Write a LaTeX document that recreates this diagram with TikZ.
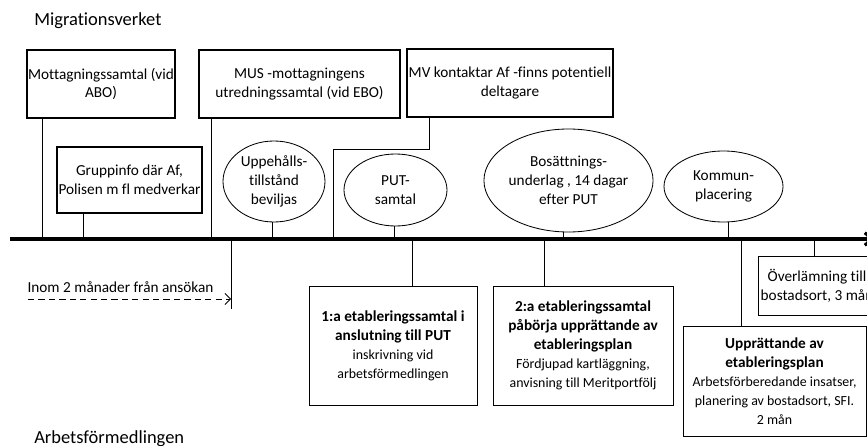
\documentclass[tikz,border=0pt]{standalone}
\usepackage{fontspec}
\setmainfont{Carlito}[Ligatures=NoCommon]
\usetikzlibrary{arrows.meta,shapes.geometric}

\newcommand{\px}{0.72pt}
\newcommand{\smalltext}{\fontsize{10}{12.8}\selectfont}

\begin{document}
\begin{tikzpicture}[x=0.72pt,y=-0.72pt,font=\fontsize{11}{13.6}\selectfont]

%
% Styles
%
\tikzstyle{topbox} = [rectangle,draw,line width=1.5pt,align=center,inner sep=1pt]
\tikzstyle{lowbox} = [rectangle,draw,line width=0.6pt,align=center,inner sep=1pt]
\tikzstyle{event} = [ellipse,draw,line width=0.6pt,align=center,inner sep=0pt]
\tikzstyle{tick} = [draw,line width=0.6pt]
\tikzstyle{title} = [anchor=base west,inner sep=0pt,font=\fontsize{13.3}{16}\selectfont]

\useasboundingbox (0,0) rectangle (867,446);
\clip (0,0) rectangle (867,446);

\node[title] (mig) at (34,26)  {Migrationsverket};
\node[title] (af)  at (34,443) {Arbetsförmedlingen};

% Migrationsverket
\node[topbox,minimum width=146*\px,minimum height=68*\px] (mott)  at (101,84)    {Mottagningssamtal (vid\\ABO)};
\node[topbox,minimum width=141*\px,minimum height=66*\px] (grupp) at (129.5,180) {Gruppinfo där Af,\\Polisen m fl medverkar};
\node[topbox,minimum width=201*\px,minimum height=68*\px] (mus)   at (299.5,84)  {MUS -mottagningens\\utredningssamtal (vid EBO)};
\node[topbox,minimum width=202*\px,minimum height=68*\px] (mv)    at (510,83)    {MV kontaktar Af -finns potentiell\\deltagare};

\node[event,minimum width=102*\px,minimum height=81*\px]  (upp) at (274,181.5) {Uppehålls-\\tillstånd\\beviljas};
\node[event,minimum width=103*\px,minimum height=72*\px]  (put) at (395.5,190) {PUT-\\samtal};
\node[event,minimum width=167*\px,minimum height=103*\px] (bos) at (568.5,180.5) {Bosättnings-\\underlag , 14 dagar\\efter PUT};
\node[event,minimum width=119*\px,minimum height=71*\px]  (kom) at (723.5,186.5) {Kommun-\\placering};

% Arbetsformedlingen
\node[lowbox,minimum width=168*\px,minimum height=119*\px] (etab1) at (393,345.5)
  {\textbf{1:a etableringssamtal i}\\\textbf{anslutning till PUT}\\{\smalltext inskrivning vid}\\{\smalltext arbetsförmedlingen}};
\node[lowbox,minimum width=180*\px,minimum height=119*\px] (etab2) at (583,345.5)
  {\textbf{2:a etableringssamtal}\\\textbf{påbörja upprättande av}\\\textbf{etableringsplan}\\{\smalltext Fördjupad kartläggning,}\\{\smalltext anvisning till Meritportfölj}};
\node[lowbox,minimum width=183*\px,minimum height=110*\px] (plan) at (774.5,381)
  {\textbf{Upprättande av}\\\textbf{etableringsplan}\\{\smalltext Arbetsförberedande insatser,}\\{\smalltext planering av bostadsort, SFI.}\\{\smalltext 2 mån}};
\node[lowbox,minimum width=118*\px,minimum height=59*\px] (over) at (817,285.5) {Överlämning till\\bostadsort, 3 mån};

% Timeline
\coordinate (start) at (10,239);
\coordinate (end)   at (874,239);
\draw[line width=2.2pt,-{Straight Barb[length=5pt,width=9pt]}] (start) -- (end);

\coordinate (tMott)  at (42,239);
\coordinate (tGrupp) at (83,239);
\coordinate (tMus)   at (211,239);
\coordinate (tUpp)   at (272,239);
\coordinate (tMv)    at (333,239);
\coordinate (tPut)   at (394,239);
\coordinate (tBos)   at (563,239);
\coordinate (tKom)   at (728,239);
\coordinate (mvBend) at (429,149);

\draw[tick] (mott.south -| tMott)   -- (tMott);
\draw[tick] (grupp.south -| tGrupp) -- (tGrupp);
\draw[tick] (mus.south -| tMus)     -- (tMus);
\draw[tick] (upp.south -| tUpp)     -- (tUpp);
\draw[tick] (put.south -| tPut)     -- (tPut);
\draw[tick] (bos.south -| tBos)     -- (tBos);
\draw[tick] (kom.south -| tKom)     -- (tKom);
\draw[tick] (mv.south -| mvBend) -- (mvBend) -| (tMv);

\coordinate (tDead)  at (231,239);
\coordinate (dead)   at (231,309);
\coordinate (tEtab1) at (412,239);
\coordinate (tEtab2) at (544,239);
\coordinate (tPlan)  at (741,239);
\coordinate (tOver)  at (814,239);

\draw[tick] (tDead)  -- (dead);
\draw[tick] (tEtab1) -- (tEtab1 |- etab1.north);
\draw[tick] (tEtab2) -- (tEtab2 |- etab2.north);
\draw[tick] (tPlan)  -- (tPlan |- plan.north);
\draw[tick] (tOver)  -- (tOver |- over.north);

% deadline
\coordinate (dashStart) at (28,299);
\draw[line width=0.6pt,dash pattern=on 4.5pt off 3pt,-{Straight Barb[length=4pt,width=8pt]}] (dashStart) -- (dashStart -| dead);
\node (inom) at (120.5,287) {Inom 2 månader från ansökan};

\end{tikzpicture}
\end{document}
